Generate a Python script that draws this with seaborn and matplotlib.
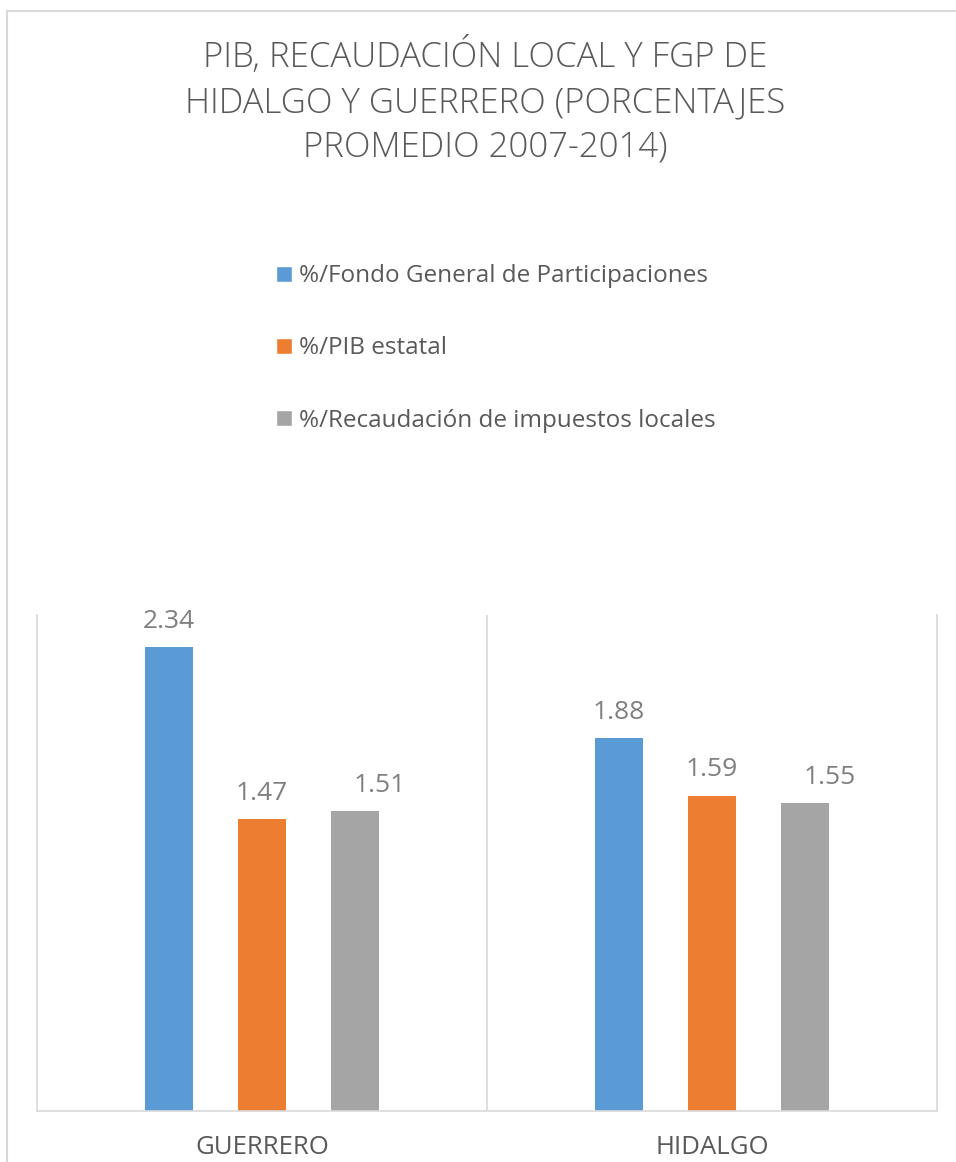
import matplotlib
matplotlib.use("Agg")
from matplotlib import pyplot as plt
from matplotlib.patches import Patch, Rectangle
import seaborn as sns
import pandas as pd

estados = ["GUERRERO", "HIDALGO"]
series = ["%/Fondo General de Participaciones", "%/PIB estatal",
          "%/Recaudación de impuestos locales"]
fondo_general = [2.34, 1.88]
pib_estatal = [1.47, 1.59]
recaudacion_local = [1.51, 1.55]
colores = ["#5B9BD5", "#ED7D31", "#A5A5A5"]
titulo = ["PIB, RECAUDACIÓN LOCAL Y FGP DE",
          "HIDALGO Y GUERRERO (PORCENTAJES",
          "PROMEDIO 2007-2014)"]

W, H = 956, 1162
GRIS_TEXTO = "#595959"
GRIS_LINEA = "#D9D9D9"


def build_frame():
    rows = []
    for serie, valores in zip(series, [fondo_general, pib_estatal, recaudacion_local]):
        for estado, valor in zip(estados, valores):
            rows.append({"estado": estado, "serie": serie, "valor": valor})
    return pd.DataFrame(rows)


def plot_barras(df):
    sns.set_theme(style="white")
    plt.rcParams["font.family"] = ["Open Sans", "DejaVu Sans"]

    fig = plt.figure(figsize=(W / 100, H / 100), dpi=100)
    # plot area: x 37..937, y 615..1111 (pixels)
    ax = fig.add_axes([37 / W, (H - 1111) / H, 900 / W, 496 / H])

    sns.barplot(data=df, x="estado", y="valor", hue="serie", order=estados,
                hue_order=series, palette=colores, saturation=1, width=0.62,
                gap=0.48, linewidth=0, legend=False, ax=ax)

    ax.set_xlim(-0.5, 1.5)
    ax.set_ylim(0, 2.5)
    ax.set_xlabel("")
    ax.set_ylabel("")
    ax.set_yticks([])
    ax.tick_params(axis="x", length=0, pad=17, labelsize=18.5, labelcolor=GRIS_TEXTO)

    for side in ["left", "right", "bottom"]:
        ax.spines[side].set_color(GRIS_LINEA)
        ax.spines[side].set_linewidth(1.2)
    ax.spines["top"].set_visible(False)
    ax.axvline(0.5, color=GRIS_LINEA, lw=1.2)

    for i, cont in enumerate(ax.containers):
        labels = ax.bar_label(cont, fmt="%.2f", padding=9.5, fontsize=19, color="#7F7F7F")
        if i == 2:
            for t in labels:
                t.xyann = (18, 9.5)

    # titulo
    for linea, base in zip(titulo, [67, 112, 157]):
        fig.text(485 / W, 1 - base / H, linea, ha="center", va="baseline",
                 fontsize=25, fontweight="light", color=GRIS_TEXTO)

    handles = [Patch(facecolor=c, label=s) for c, s in zip(colores, series)]
    fig.legend(handles=handles, loc="center left",
               bbox_to_anchor=(276 / W, 1 - 348.5 / H), frameon=False,
               fontsize=17.5, labelcolor=GRIS_TEXTO, handlelength=0.66,
               handleheight=0.66, handletextpad=0.3, labelspacing=1.98,
               borderpad=0, borderaxespad=0)

    # marco exterior del grafico
    fig.patches.append(Rectangle((7 / W, -0.1), 1.2, 1.1 - 11 / H,
                                 transform=fig.transFigure, fill=False,
                                 edgecolor=GRIS_LINEA, lw=1.5))

    fig.savefig("out.png", dpi=100)


def main():
    df = build_frame()
    plot_barras(df)


if __name__ == "__main__":
    main()
